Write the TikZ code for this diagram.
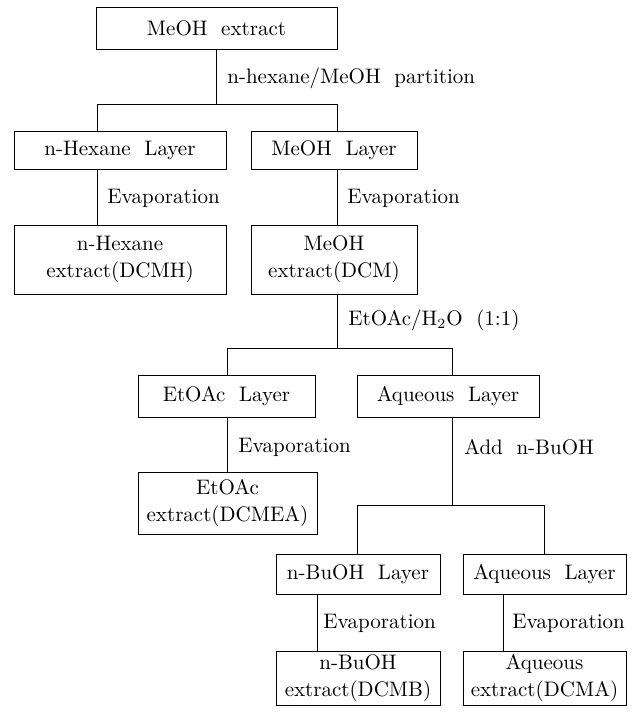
\documentclass[tikz,border=0pt]{standalone}
\newcommand{\ws}{\hspace{0.65em}}
\begin{document}
\begin{tikzpicture}[x=0.5pt,y=-0.5pt,
  every node/.style={font=\fontsize{10.5}{13.5}\selectfont},
  box/.style={draw,line width=0.5pt,inner sep=0pt,align=center},
  lbl/.style={anchor=west,inner sep=0pt},
  conn/.style={line width=0.5pt}]
\useasboundingbox (0,0) rectangle (632,713);
% boxes
\node[box,minimum width=120.5pt,minimum height=21pt] (A) at (216.5,28) {MeOH\ws extract};
\node[box,minimum width=106pt,minimum height=19pt] (B1) at (120,150) {n-Hexane\ws Layer};
\node[box,minimum width=83pt,minimum height=19pt] (B2) at (334,150) {MeOH\ws Layer};
\node[box,minimum width=106pt,minimum height=34.5pt] (C1) at (120,259.5) {n-Hexane\\extract(DCMH)};
\node[box,minimum width=83pt,minimum height=34.5pt] (C2) at (334,259.5) {MeOH\\extract(DCM)};
\node[box,minimum width=88.5pt,minimum height=21pt] (D1) at (226.5,396) {EtOAc\ws Layer};
\node[box,minimum width=91pt,minimum height=21pt] (D2) at (448,396) {Aqueous\ws Layer};
\node[box,minimum width=89.5pt,minimum height=31pt] (E1) at (227.5,503) {EtOAc\\extract(DCMEA)};
\node[box,minimum width=82pt,minimum height=20pt] (F1) at (358,574) {n-BuOH\ws Layer};
\node[box,minimum width=81.5pt,minimum height=20pt] (F2) at (544.5,574) {Aqueous\ws Layer};
\node[box,minimum width=82pt,minimum height=27pt] (G1) at (358,678) {n-BuOH\\extract(DCMB)};
\node[box,minimum width=81.5pt,minimum height=27pt] (G2) at (544.5,678) {Aqueous\\extract(DCMA)};
% junction coordinates
\coordinate (h1L) at (97,104);
\coordinate (h1R) at (337,104);
\coordinate (h2L) at (227,348);
\coordinate (h2R) at (452,348);
\coordinate (h3L) at (357,505);
\coordinate (h3R) at (544,505);
\coordinate (g1x) at (317,594);
\coordinate (g2x) at (503,594);
% connectors
\draw[conn] (A.south) -- (A.south |- h1L);
\draw[conn] (B1.north -| h1L) -- (h1L) -- (h1R) -- (B2.north -| h1R);
\draw[conn] (B1.south -| h1L) -- (C1.north -| h1L);
\draw[conn] (B2.south -| h1R) -- (C2.north -| h1R);
\draw[conn] (C2.south -| h1R) -- (h1R |- h2L);
\draw[conn] (D1.north -| h2L) -- (h2L) -- (h2R) -- (D2.north -| h2R);
\draw[conn] (D1.south -| h2L) -- (E1.north -| h2L);
\draw[conn] (D2.south -| h2R) -- (h2R |- h3L);
\draw[conn] (F1.north -| h3L) -- (h3L) -- (h3R) -- (F2.north -| h3R);
\draw[conn] (F1.south -| g1x) -- (G1.north -| g1x);
\draw[conn] (F2.south -| g2x) -- (G2.north -| g2x);
% labels
\node[lbl] (l1) at (227,78) {n-hexane/MeOH\ws partition};
\node[lbl] (l2) at (107,198) {Evaporation};
\node[lbl] (l3) at (347,198) {Evaporation};
\node[lbl] (l4) at (348,320) {EtOAc/H$_2$O\ws(1:1)};
\node[lbl] (l5) at (238,447) {Evaporation};
\node[lbl] (l6) at (464,447) {Add\ws n-BuOH};
\node[lbl] (l7) at (323,623) {Evaporation};
\node[lbl] (l8) at (512,623) {Evaporation};
\end{tikzpicture}
\end{document}
